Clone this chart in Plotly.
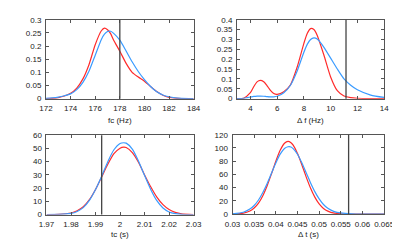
import plotly.graph_objects as go

# ---------------- data ----------------
fc_x = [172, 172.5, 173, 173.5, 174, 174.5, 175, 175.5, 176, 176.5, 176.75, 177, 177.25, 177.5,
        178, 178.5, 179, 179.5, 180, 180.5, 181, 181.5, 182, 182.5, 183, 184]
fc_red = [0.0, 0.001, 0.004, 0.010, 0.020, 0.040, 0.075, 0.130, 0.205, 0.258, 0.268, 0.262, 0.247, 0.222,
          0.180, 0.135, 0.100, 0.082, 0.066, 0.046, 0.027, 0.013, 0.005, 0.002, 0.0005, 0.0]
fc_blue = [0.001, 0.003, 0.006, 0.011, 0.018, 0.034, 0.062, 0.105, 0.165, 0.225, 0.245, 0.255, 0.256, 0.248,
           0.222, 0.182, 0.140, 0.103, 0.072, 0.046, 0.026, 0.014, 0.007, 0.003, 0.001, 0.0]

df_x = [3, 3.5, 4, 4.25, 4.5, 4.75, 5, 5.25, 5.5, 5.75, 6, 6.5, 7, 7.5, 8, 8.25, 8.5, 8.75, 9,
        9.5, 10, 10.5, 11, 11.5, 12, 13, 14]
df_red = [0.0, 0.002, 0.030, 0.060, 0.085, 0.092, 0.085, 0.065, 0.042, 0.026, 0.022, 0.035, 0.070, 0.160,
          0.280, 0.330, 0.355, 0.350, 0.320, 0.220, 0.110, 0.040, 0.013, 0.005, 0.002, 0.0005, 0.0]
df_blue = [0.0, 0.002, 0.008, 0.011, 0.013, 0.013, 0.012, 0.010, 0.009, 0.009, 0.012, 0.030, 0.068, 0.140,
           0.235, 0.275, 0.300, 0.308, 0.302, 0.260, 0.205, 0.150, 0.100, 0.068, 0.045, 0.018, 0.006]

tc_x = [1.97, 1.975, 1.98, 1.9825, 1.985, 1.9875, 1.99, 1.9925, 1.995, 1.9975, 2.0, 2.0015, 2.0025,
        2.005, 2.0075, 2.01, 2.0125, 2.015, 2.0175, 2.02, 2.0225, 2.025, 2.03]
tc_red = [0.0, 0.2, 1.2, 2.9, 5.9, 11.3, 19.0, 28.5, 38.0, 46.0, 50.2, 51.0, 50.7,
          46.8, 39.5, 30.0, 21.0, 13.2, 7.5, 3.8, 1.7, 0.6, 0.05]
tc_blue = [0.0, 0.1, 0.9, 2.4, 5.3, 10.7, 18.9, 29.0, 40.0, 49.0, 53.8, 54.3, 54.0,
           49.5, 40.5, 29.5, 19.0, 10.5, 5.0, 2.0, 0.7, 0.2, 0.0]

dt_x = [0.03, 0.0325, 0.034, 0.035, 0.036, 0.037, 0.038, 0.039, 0.04, 0.041, 0.042, 0.0428, 0.0435,
        0.044, 0.045, 0.046, 0.047, 0.048, 0.049, 0.05, 0.051, 0.052, 0.0535, 0.055, 0.0575, 0.06, 0.065]
dt_red = [0.14, 1.45, 4.7, 9.2, 16.6, 27.9, 43.0, 61.0, 79.9, 96.4, 107.1, 110.0, 108.0,
          104.2, 91.5, 74.7, 56.3, 39.5, 25.7, 15.4, 8.6, 4.5, 1.4, 0.4, 0.03, 0.0, 0.0]
dt_blue = [0.43, 2.9, 7.6, 13.1, 21.3, 32.6, 46.3, 61.9, 77.3, 90.6, 99.3, 101.8, 101.5,
           99.0, 90.5, 77.5, 62.5, 47.5, 34.0, 23.0, 14.5, 8.7, 3.8, 1.8, 0.6, 0.2, 0.0]

ref_values = [178, 11.15, 1.9925, 0.0568]

x_titles = ["fc (Hz)", "Δ f (Hz)", "tc (s)", "Δ t (s)"]
x_ranges = [[172, 184], [3, 14], [1.97, 2.03], [0.03, 0.065]]
x_ticks = [[172, 174, 176, 178, 180, 182, 184],
           [4, 6, 8, 10, 12, 14],
           [1.97, 1.98, 1.99, 2.0, 2.01, 2.02, 2.03],
           [0.03, 0.035, 0.04, 0.045, 0.05, 0.055, 0.06, 0.065]]
x_ticklabels = [["172", "174", "176", "178", "180", "182", "184"],
                ["4", "6", "8", "10", "12", "14"],
                ["1.97", "1.98", "1.99", "2", "2.01", "2.02", "2.03"],
                ["0.03", "0.035", "0.04", "0.045", "0.05", "0.055", "0.06", "0.065"]]
y_ranges = [[0, 0.3], [0, 0.4], [0, 60], [0, 120]]
y_ticks = [[0, 0.05, 0.1, 0.15, 0.2, 0.25, 0.3],
           [0, 0.05, 0.1, 0.15, 0.2, 0.25, 0.3, 0.35, 0.4],
           [0, 10, 20, 30, 40, 50, 60],
           [0, 20, 40, 60, 80, 100, 120]]
y_ticklabels = [["0", "0.05", "0.1", "0.15", "0.2", "0.25", "0.3"],
                ["0", "0.05", "0.1", "0.15", "0.2", "0.25", "0.3", "0.35", "0.4"],
                ["0", "10", "20", "30", "40", "50", "60"],
                ["0", "20", "40", "60", "80", "100", "120"]]

series = [(fc_x, fc_red, fc_blue), (df_x, df_red, df_blue),
          (tc_x, tc_red, tc_blue), (dt_x, dt_red, dt_blue)]

# ---------------- layout ----------------
W, H = 400, 240
boxes = [(31.5, 186.5, 8, 90), (232, 386.5, 8, 90),
         (32, 186.5, 128, 210.5), (227.3, 386.5, 127.5, 210)]
title_y = [113, 113, 231, 231]

RED = "#ff2a2a"
BLUE = "#3a9bff"
FRAME = "#555555"
FONT = dict(family="Liberation Sans, Arial, sans-serif", size=8, color="#222222")

fig = go.Figure()
layout = dict(width=W, height=H, autosize=False, margin=dict(l=0, r=0, t=0, b=0),
              paper_bgcolor="white", plot_bgcolor="white", showlegend=False, font=FONT)
shapes = []
annotations = []
for i, (xs, r, b) in enumerate(series):
    n = "" if i == 0 else str(i + 1)
    xa, ya = "x" + n, "y" + n
    fig.add_trace(go.Scatter(x=xs, y=r, mode="lines", line=dict(color=RED, width=1.2, shape="spline", smoothing=0.6),
                             xaxis=xa, yaxis=ya, hoverinfo="skip"))
    fig.add_trace(go.Scatter(x=xs, y=b, mode="lines", line=dict(color=BLUE, width=1.2, shape="spline", smoothing=0.6),
                             xaxis=xa, yaxis=ya, hoverinfo="skip"))
    x0, x1, y0, y1 = boxes[i]
    layout["xaxis" + n] = dict(domain=[x0 / W, x1 / W], range=x_ranges[i], anchor=ya,
                               tickvals=x_ticks[i], ticktext=x_ticklabels[i], tickangle=0,
                               ticks="inside", ticklen=3, tickcolor=FRAME, mirror="ticks",
                               showline=True, linecolor=FRAME, linewidth=1, showgrid=False, zeroline=False,
                               tickfont=FONT, ticklabelstandoff=2, ticklabeloverflow="allow")
    layout["yaxis" + n] = dict(domain=[1 - y1 / H, 1 - y0 / H], range=y_ranges[i], anchor=xa,
                               tickvals=y_ticks[i], ticktext=y_ticklabels[i],
                               ticks="inside", ticklen=3, tickcolor=FRAME, mirror="ticks",
                               showline=True, linecolor=FRAME, linewidth=1, showgrid=False, zeroline=False,
                               tickfont=FONT, ticklabelstandoff=2, ticklabeloverflow="allow")
    shapes.append(dict(type="line", xref=xa, yref=ya + " domain", x0=ref_values[i], x1=ref_values[i],
                       y0=0, y1=1, line=dict(color="#444444", width=1.3)))
    annotations.append(dict(text=x_titles[i], xref=xa + " domain", x=0.5, yref="paper",
                            y=1 - title_y[i] / H, xanchor="center", yanchor="middle",
                            showarrow=False, font=FONT))
layout["shapes"] = shapes
layout["annotations"] = annotations
fig.update_layout(**layout)
fig.write_html("out.html")
